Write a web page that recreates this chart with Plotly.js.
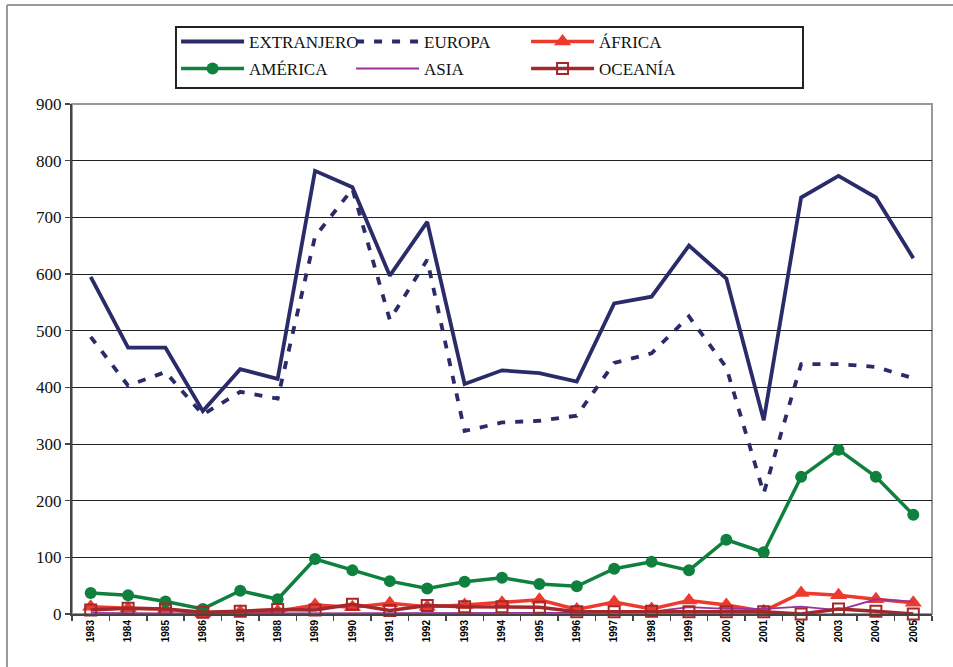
<!DOCTYPE html>
<html>
<head>
<meta charset="utf-8">
<script src="https://cdn.plot.ly/plotly-3.0.1.min.js"></script>
<style>html,body{margin:0;padding:0;background:#fff;}#chart{width:953px;height:667px;}</style>
</head>
<body>
<div id="chart"></div>
<script>
var years = ['1983','1984','1985','1986','1987','1988','1989','1990','1991','1992','1993','1994','1995','1996','1997','1998','1999','2000','2001','2002','2003','2004','2005'];
var extranjero = [595,470,470,358,432,415,782,753,597,692,406,430,425,410,548,560,650,592,342,735,773,735,628];
var europa     = [489,403,427,352,392,380,666,750,519,625,323,338,341,350,443,460,525,435,213,441,441,436,416];
var africa     = [13,10,9,1,4,5,16,12,19,13,16,20,25,8,21,9,24,16,5,37,33,26,20];
var america    = [37,33,22,9,41,26,97,77,58,45,57,64,53,49,80,92,77,131,109,242,290,242,175];
var asia       = [2,1,1,1,1,2,2,2,1,2,2,2,2,2,3,4,12,9,9,13,7,26,22];
var oceania    = [7,10,9,3,5,8,7,17,6,15,13,13,12,4,4,5,4,4,4,0,9,5,0];
var seriesNames = ['EXTRANJERO','EUROPA','ÁFRICA','AMÉRICA','ASIA','OCEANÍA'];

var NAVY = '#2A2C69', RED = '#EE3A2C', GREEN = '#10803F', PURPLE = '#993399', DRED = '#A2282B';
var SERIF = '"Liberation Serif", "DejaVu Serif", serif';

var traces = [
  {x: years, y: extranjero, name: seriesNames[0], mode: 'lines', line: {color: NAVY, width: 3.8}, legend: 'legend'},
  {x: years, y: europa, name: seriesNames[1], mode: 'lines', line: {color: NAVY, width: 3.8, dash: '8px,10px'}, legend: 'legend'},
  {x: years, y: africa, name: seriesNames[2], mode: 'lines+markers', line: {color: RED, width: 3.5},
   marker: {symbol: 'triangle-up', size: 15, color: RED}, legend: 'legend', cliponaxis: false},
  {x: years, y: america, name: seriesNames[3], mode: 'lines+markers', line: {color: GREEN, width: 3.5},
   marker: {symbol: 'circle', size: 12, color: GREEN}, legend: 'legend2', cliponaxis: false},
  {x: years, y: asia, name: seriesNames[4], mode: 'lines', line: {color: PURPLE, width: 1.8}, legend: 'legend2'},
  {x: years, y: oceania, name: seriesNames[5], mode: 'lines+markers', line: {color: DRED, width: 3.5},
   marker: {symbol: 'square-open', size: 11, color: DRED, line: {width: 2, color: DRED}}, legend: 'legend2', cliponaxis: false}
];

var legFont = {family: SERIF, size: 17, color: '#111'};
var legBase = {orientation: 'h', xanchor: 'left', yanchor: 'top', entrywidth: 97, entrywidthmode: 'pixels',
  itemwidth: 63, bgcolor: 'rgba(0,0,0,0)', borderwidth: 0, font: legFont, itemclick: false, traceorder: 'normal'};

var layout = {
  width: 953, height: 667,
  margin: {l: 72, r: 21, t: 104, b: 53},
  paper_bgcolor: '#fff', plot_bgcolor: '#fff',
  showlegend: true,
  legend: Object.assign({}, legBase, {x: 0.121, y: 1.157}),
  legend2: Object.assign({}, legBase, {x: 0.121, y: 1.104}),
  xaxis: {
    type: 'category', range: [-0.5, 22.5],
    showgrid: false, zeroline: false,
    showline: true, linecolor: '#444', linewidth: 2,
    ticks: 'outside', ticklen: 5, tickcolor: '#444', tickwidth: 1.5, tickson: 'boundaries',
    tickangle: -90,
    tickfont: {family: '"Liberation Sans", Arial, sans-serif', size: 10, color: '#000', weight: 'bold'}
  },
  yaxis: {
    range: [0, 900], dtick: 100, tick0: 0,
    showgrid: true, gridcolor: '#222', gridwidth: 1,
    zeroline: false,
    showline: true, linecolor: '#444', linewidth: 2,
    ticks: 'outside', ticklen: 5, tickcolor: '#444', tickwidth: 1.5,
    tickfont: {family: SERIF, size: 17, color: '#111'}
  },
  shapes: [
    {type: 'rect', xref: 'paper', yref: 'paper', x0: 0, x1: 1, y0: 0, y1: 1, line: {color: '#999', width: 2}, layer: 'below'},
    {type: 'rect', xref: 'paper', yref: 'paper', x0: 0.1209, x1: 0.85, y0: 1.0314, y1: 1.151, line: {color: '#222', width: 2}},
    {type: 'line', xref: 'paper', yref: 'paper', x0: -0.0756, x1: -0.0756, y0: -0.2, y1: 1.194, line: {color: '#999', width: 2}},
    {type: 'line', xref: 'paper', yref: 'paper', x0: -0.0756, x1: 1.1, y0: 1.194, y1: 1.194, line: {color: '#999', width: 2}}
  ]
};

Plotly.newPlot('chart', traces, layout, {displayModeBar: false, staticPlot: true});
</script>
</body>
</html>
